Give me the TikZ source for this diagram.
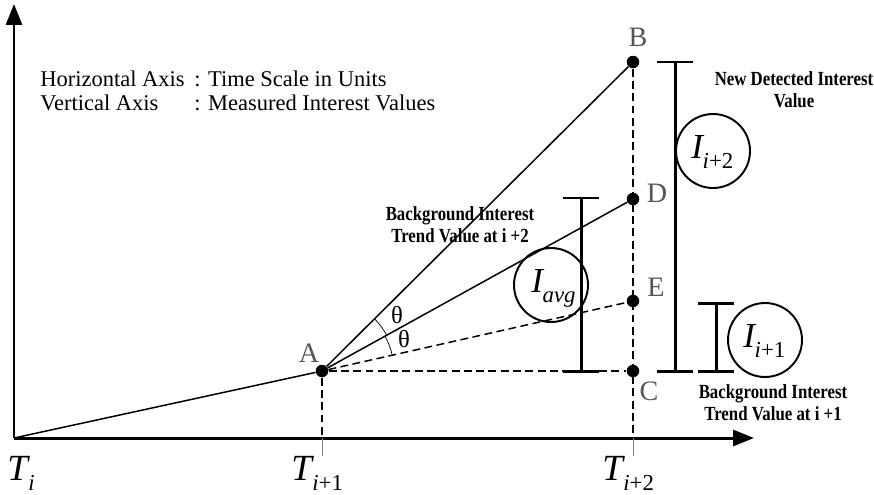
\documentclass[tikz,border=0pt]{standalone}
\usepackage{fontspec}
\setmainfont{Liberation Serif}
\newfontfamily\narrowfont[FakeStretch=0.84]{Liberation Serif}
\usetikzlibrary{arrows.meta}
\definecolor{LabelGray}{HTML}{555555}
\newcommand{\subtext}[3]{\fontsize{#3}{#3}\selectfont\textit{#1}\kern-1pt\raisebox{-6pt}{\fontsize{13}{13}\selectfont #2}}
\tikzset{
  axisline/.style={line width=1.7pt,-{Triangle[length=0.42cm,width=0.32cm]}},
  trendline/.style={line width=0.85pt},
  guideline/.style={line width=0.85pt,dash pattern=on 4.5pt off 2.5pt},
  tickline/.style={line width=0.4pt,draw=gray},
  ptdot/.style={circle,fill=black,inner sep=0pt,minimum size=0.25cm},
  ptlabel/.style={font=\fontsize{16}{16}\selectfont,text=LabelGray,inner sep=0pt},
  errbar/.style={line width=1.7pt},
  valcircle/.style={circle,draw,line width=1.1pt,minimum size=1.48cm,inner sep=0pt},
  notelabel/.style={font=\narrowfont\bfseries\fontsize{11.4}{12.5}\selectfont,align=center,inner sep=0pt},
  legendtext/.style={font=\fontsize{12.8}{12.8}\selectfont,anchor=base west,inner sep=0pt},
  thetalabel/.style={font=\fontsize{14}{14}\selectfont,inner sep=0pt},
  timelabel/.style={anchor=base west,inner sep=0pt},
}
\begin{document}
\begin{tikzpicture}[x=0.02cm,y=-0.02cm]
  \useasboundingbox (0,0) rectangle (874,494);
  % axes
  \coordinate (O) at (14,438);
  \coordinate (ytop) at (14,4);
  \coordinate (xend) at (754,438);
  \draw[axisline] (O) -- (ytop);
  \draw[axisline] (O) -- (xend);
  \node[legendtext] (hax) at (40,86) {Horizontal Axis};
  \node[legendtext] (hval) at (194,86) {: Time Scale in Units};
  \node[legendtext] (vax) at (40,110) {Vertical Axis};
  \node[legendtext] (vval) at (194,110) {: Measured Interest Values};
  % points
  \node[ptdot] (A) at (322,371) {};
  \node[ptdot] (B) at (633,62) {};
  \node[ptdot] (D) at (633,199) {};
  \node[ptdot] (E) at (633,301) {};
  \node[ptdot] (C) at (633,371) {};
  \coordinate (t1) at (322,438);
  \coordinate (t2) at (633,438);
  \coordinate (t1b) at (322,456);
  \coordinate (t2b) at (633,456);
  \draw[guideline] (A) -- (t1);
  \draw[guideline] (B) -- (t2);
  \draw[tickline] (t1) -- (t1b);
  \draw[tickline] (t2) -- (t2b);
  \draw[trendline] (O) -- (A);
  \draw[trendline] (A) -- (B);
  \draw[trendline] (A) -- (D);
  \draw[guideline] (A) -- (E);
  \draw[guideline] (A) -- (C);
  \node[ptlabel] (Alab) at (309,353) {A};
  \node[ptlabel] (Blab) at (638,37) {B};
  \node[ptlabel] (Dlab) at (657,193) {D};
  \node[ptlabel] (Elab) at (656,287) {E};
  \node[ptlabel] (Clab) at (649,391) {C};
  % angles
  \draw[line width=0.4pt] (A) ++(-44.8:74) arc[start angle=-44.8,end angle=-28.9,radius=74];
  \draw[line width=0.4pt] (A) ++(-28.9:72) arc[start angle=-28.9,end angle=-12.7,radius=72];
  \node[thetalabel] (th1) at (397,315) {θ};
  \node[thetalabel] (th2) at (404,339) {θ};
  % error bars
  \draw[errbar] (563,198) -- (599,198) (581,198) -- (581,371) (563,371) -- (599,371);
  \draw[errbar] (657,62) -- (693,62) (675,62) -- (675,371) (657,371) -- (693,371);
  \draw[errbar] (698,303) -- (734,303) (716,303) -- (716,371) (698,371) -- (734,371);
  \node[valcircle] (Iavg) at (551,285) {};
  \node[valcircle] (Inew) at (713,151) {};
  \node[valcircle] (Iold) at (765,340) {};
  \node[timelabel] at (531,292) {\subtext{I}{\textit{avg}}{20}};
  \node[timelabel] at (691,158) {\subtext{I}{\textit{i}+2}{20}};
  \node[timelabel] at (743,347) {\subtext{I}{\textit{i}+1}{20}};
  \node[notelabel] (newval) at (794,90) {New Detected Interest\\Value};
  \node[notelabel] (bg2) at (460,225) {Background Interest\\Trend Value at i +2};
  \node[notelabel] (bg1) at (773,403) {Background Interest\\Trend Value at i +1};
  % time labels
  \node[timelabel] (Ti) at (7,480) {\subtext{T}{\textit{i}}{21}};
  \node[timelabel] (Ti1) at (291,480) {\subtext{T}{\textit{i}+1}{21}};
  \node[timelabel] (Ti2) at (602,480) {\subtext{T}{\textit{i}+2}{21}};
\end{tikzpicture}
\end{document}
